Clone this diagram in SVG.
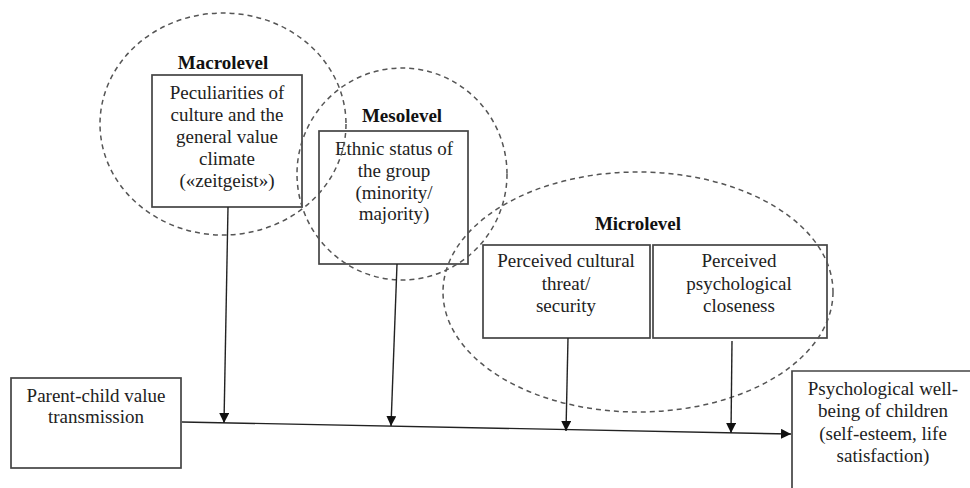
<svg xmlns="http://www.w3.org/2000/svg" width="970" height="488" viewBox="0 0 970 488">
<defs>
<marker id="arr" viewBox="0 0 10 10" refX="10" refY="5" markerWidth="10" markerHeight="10" markerUnits="userSpaceOnUse" orient="auto">
<path d="M0,0 L10,5 L0,10 Z" fill="#111"/>
</marker>
<style>
.box{fill:#fff;stroke:#444;stroke-width:1.7}
.boxn{fill:none;stroke:#444;stroke-width:1.7}
.lvl{fill:none;stroke:#555;stroke-width:1.5;stroke-dasharray:5 4}
.t{font-family:"Liberation Serif","Times New Roman",serif;font-size:19px;fill:#222;text-anchor:middle}
.h{font-family:"Liberation Serif","Times New Roman",serif;font-size:19px;font-weight:bold;fill:#111;text-anchor:middle}
.c{stroke:#222;stroke-width:1.4;fill:none;marker-end:url(#arr)}
</style>
</defs>
<rect width="970" height="488" fill="#fff"/>
<g id="macro">
<rect class="box" x="152" y="75" width="150" height="132"/>
<text class="h" x="223" y="69">Macrolevel</text>
<text class="t" x="227" y="99">Peculiarities of</text>
<text class="t" x="227" y="121">culture and the</text>
<text class="t" x="227" y="143">general value</text>
<text class="t" x="227" y="165">climate</text>
<text class="t" x="227" y="187">(«zeitgeist»)</text>
</g>
<g id="meso">
<rect class="box" x="319" y="131" width="149" height="133"/>
<text class="h" x="402" y="122">Mesolevel</text>
<text class="t" x="394" y="155">Ethnic status of</text>
<text class="t" x="394" y="177">the group</text>
<text class="t" x="394" y="199">(minority/</text>
<text class="t" x="394" y="220">majority)</text>
</g>
<g id="micro1">
<rect class="box" x="483" y="245" width="167" height="93"/>
<text class="t" x="566" y="267">Perceived cultural</text>
<text class="t" x="566" y="290">threat/</text>
<text class="t" x="566" y="312">security</text>
</g>
<g id="micro2">
<rect class="box" x="653" y="245" width="174" height="93"/>
<text class="t" x="739" y="267">Perceived</text>
<text class="t" x="739" y="290">psychological</text>
<text class="t" x="739" y="312">closeness</text>
</g>
<g id="levels">
<ellipse class="lvl" cx="223" cy="124" rx="123" ry="111"/>
<ellipse class="lvl" cx="402" cy="174" rx="105" ry="106"/>
<ellipse class="lvl" cx="638" cy="292" rx="195" ry="120"/>
<text class="h" x="638" y="230">Microlevel</text>
</g>
<g id="parent">
<rect class="box" x="11" y="378" width="170" height="90"/>
<text class="t" x="96" y="402">Parent-child value</text>
<text class="t" x="96" y="423">transmission</text>
</g>
<g id="wellbeing">
<path class="boxn" d="M975,371 L792,371 L792,493"/>
<text class="t" x="883" y="395">Psychological well-</text>
<text class="t" x="883" y="417">being of children</text>
<text class="t" x="883" y="440">(self-esteem, life</text>
<text class="t" x="883" y="462">satisfaction)</text>
</g>
<g id="connectors">
<line class="c" x1="182" y1="422" x2="791" y2="434"/>
<line class="c" x1="228" y1="207" x2="224" y2="423"/>
<line class="c" x1="397" y1="264" x2="391" y2="426"/>
<line class="c" x1="568" y1="338" x2="566" y2="431"/>
<line class="c" x1="732" y1="341" x2="731" y2="433"/>
</g>
</svg>
